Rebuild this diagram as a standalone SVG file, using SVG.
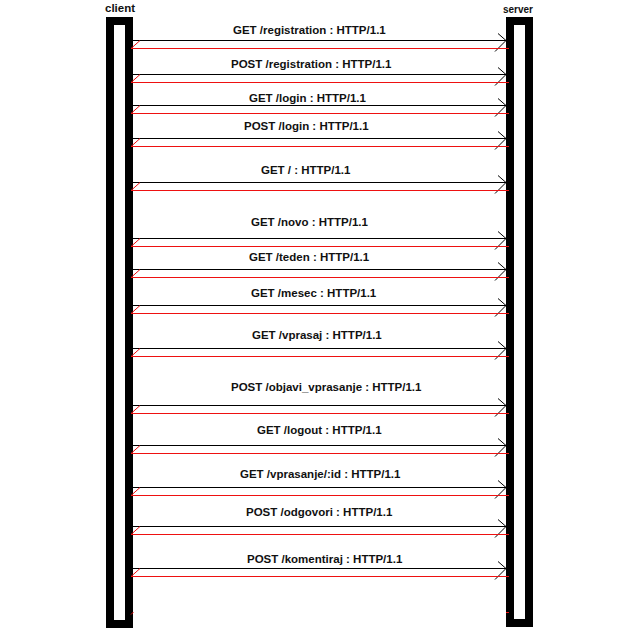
<svg xmlns="http://www.w3.org/2000/svg" xmlns:xlink="http://www.w3.org/1999/xlink" width="641" height="637" viewBox="0 0 641 637">
<style>
.life{fill:#fff;stroke:#000;stroke-width:8}
.req{stroke:#000;stroke-width:1;fill:none}
.res{stroke:#ee1111;stroke-width:1;fill:none}
.lbl{font-family:"Liberation Sans",Arial,sans-serif;font-weight:bold;font-size:11.5px;fill:#111}
.actor{font-family:"Liberation Sans",Arial,sans-serif;font-weight:bold;font-size:11.5px;fill:#111}
</style>
<defs>
<path id="head" class="req" d="M-8,-7 L0,0 L-11,11"/>
<path id="rhead" class="res" d="M0,0 L9,-8"/>
</defs>
<rect width="641" height="637" fill="#fff"/>
<g id="client">
<rect class="life" x="110" y="21" width="19" height="603"/>
<text class="actor" x="105" y="12">client</text>
</g>
<g id="server">
<rect class="life" x="510" y="21" width="19" height="602"/>
<text class="actor" x="503" y="13" textLength="30" lengthAdjust="spacingAndGlyphs">server</text>
</g>
<g id="connectors">
<g id="m1"><line class="req" x1="133" y1="40.5" x2="506" y2="40.5"/><use xlink:href="#head" x="506" y="40.5"/><line class="res" x1="131" y1="48.5" x2="509" y2="48.5"/><use xlink:href="#rhead" x="131" y="48.5"/><text class="lbl" x="233" y="34">GET /registration : HTTP/1.1</text></g>
<g id="m2"><line class="req" x1="133" y1="74.5" x2="506" y2="74.5"/><use xlink:href="#head" x="506" y="74.5"/><line class="res" x1="131" y1="82.5" x2="509" y2="82.5"/><use xlink:href="#rhead" x="131" y="82.5"/><text class="lbl" x="231" y="68">POST /registration : HTTP/1.1</text></g>
<g id="m3"><line class="req" x1="133" y1="105.5" x2="506" y2="105.5"/><use xlink:href="#head" x="506" y="105.5"/><line class="res" x1="131" y1="113.5" x2="509" y2="113.5"/><use xlink:href="#rhead" x="131" y="113.5"/><text class="lbl" x="249" y="102">GET /login : HTTP/1.1</text></g>
<g id="m4"><line class="req" x1="133" y1="138.5" x2="506" y2="138.5"/><use xlink:href="#head" x="506" y="138.5"/><line class="res" x1="131" y1="146.5" x2="509" y2="146.5"/><use xlink:href="#rhead" x="131" y="146.5"/><text class="lbl" x="244" y="130">POST /login : HTTP/1.1</text></g>
<g id="m5"><line class="req" x1="133" y1="182.5" x2="506" y2="182.5"/><use xlink:href="#head" x="506" y="182.5"/><line class="res" x1="131" y1="190.5" x2="509" y2="190.5"/><use xlink:href="#rhead" x="131" y="190.5"/><text class="lbl" x="261" y="174">GET / : HTTP/1.1</text></g>
<g id="m6"><line class="req" x1="133" y1="238.5" x2="506" y2="238.5"/><use xlink:href="#head" x="506" y="238.5"/><line class="res" x1="131" y1="246.5" x2="509" y2="246.5"/><use xlink:href="#rhead" x="131" y="246.5"/><text class="lbl" x="251" y="226">GET /novo : HTTP/1.1</text></g>
<g id="m7"><line class="req" x1="133" y1="269.5" x2="506" y2="269.5"/><use xlink:href="#head" x="506" y="269.5"/><line class="res" x1="131" y1="277.5" x2="509" y2="277.5"/><use xlink:href="#rhead" x="131" y="277.5"/><text class="lbl" x="249" y="261">GET /teden : HTTP/1.1</text></g>
<g id="m8"><line class="req" x1="133" y1="305.5" x2="506" y2="305.5"/><use xlink:href="#head" x="506" y="305.5"/><line class="res" x1="131" y1="313.5" x2="509" y2="313.5"/><use xlink:href="#rhead" x="131" y="313.5"/><text class="lbl" x="251" y="297">GET /mesec : HTTP/1.1</text></g>
<g id="m9"><line class="req" x1="133" y1="348.5" x2="506" y2="348.5"/><use xlink:href="#head" x="506" y="348.5"/><line class="res" x1="131" y1="356.5" x2="509" y2="356.5"/><use xlink:href="#rhead" x="131" y="356.5"/><text class="lbl" x="252" y="339">GET /vprasaj : HTTP/1.1</text></g>
<g id="m10"><line class="req" x1="133" y1="405.5" x2="506" y2="405.5"/><use xlink:href="#head" x="506" y="405.5"/><line class="res" x1="131" y1="413.5" x2="509" y2="413.5"/><use xlink:href="#rhead" x="131" y="413.5"/><text class="lbl" x="231" y="391">POST /objavi_vprasanje : HTTP/1.1</text></g>
<g id="m11"><line class="req" x1="133" y1="445.5" x2="506" y2="445.5"/><use xlink:href="#head" x="506" y="445.5"/><line class="res" x1="131" y1="453.5" x2="509" y2="453.5"/><use xlink:href="#rhead" x="131" y="453.5"/><text class="lbl" x="257" y="434">GET /logout : HTTP/1.1</text></g>
<g id="m12"><line class="req" x1="133" y1="487.5" x2="506" y2="487.5"/><use xlink:href="#head" x="506" y="487.5"/><line class="res" x1="131" y1="495.5" x2="509" y2="495.5"/><use xlink:href="#rhead" x="131" y="495.5"/><text class="lbl" x="240" y="478">GET /vprasanje/:id : HTTP/1.1</text></g>
<g id="m13"><line class="req" x1="133" y1="526.5" x2="506" y2="526.5"/><use xlink:href="#head" x="506" y="526.5"/><line class="res" x1="131" y1="534.5" x2="509" y2="534.5"/><use xlink:href="#rhead" x="131" y="534.5"/><text class="lbl" x="246" y="516">POST /odgovori : HTTP/1.1</text></g>
<g id="m14"><line class="req" x1="133" y1="568.5" x2="506" y2="568.5"/><use xlink:href="#head" x="506" y="568.5"/><line class="res" x1="131" y1="576.5" x2="509" y2="576.5"/><use xlink:href="#rhead" x="131" y="576.5"/><text class="lbl" x="247" y="563">POST /komentiraj : HTTP/1.1</text></g>
<line class="res" x1="131" y1="614.5" x2="133.5" y2="612"/>
<line class="res" x1="506" y1="612.5" x2="509" y2="612.5"/>
</g>
</svg>
